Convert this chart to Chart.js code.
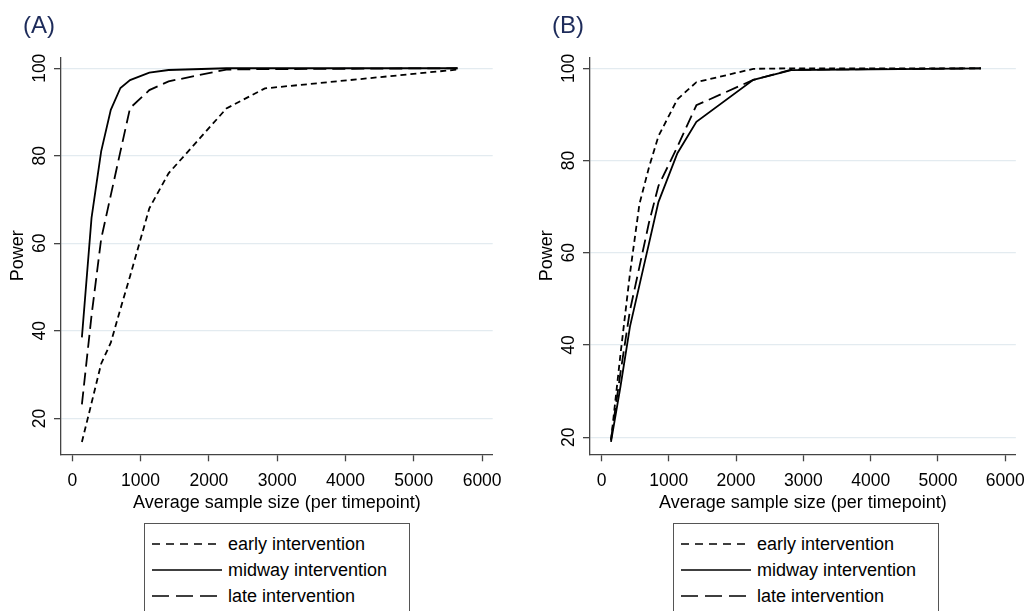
<!DOCTYPE html>
<html>
<head>
<meta charset="utf-8">
<script src="https://cdn.jsdelivr.net/npm/chart.js@4.4.0/dist/chart.umd.min.js"></script>
<style>
  body { margin: 0; background: #fff; font-family: "Liberation Sans", Arial, sans-serif; }
  .wrap { position: relative; width: 1034px; height: 611px; overflow: hidden; }
  .panel { position: absolute; top: 0; }
  .tag { position: absolute; top: 12px; font-size: 24px; line-height: 26px; color: #1d2b5a; }
  .legend { position: absolute; top: 523px; width: 266px; height: 100px; border: 1px solid #555;
            box-sizing: border-box; padding-top: 7px; }
  .legend .row { display: flex; align-items: center; height: 26px; font-size: 18px; color: #000; }
  .legend svg { margin: 0 6px 0 7px; }
</style>
</head>
<body>
<div class="wrap">
  <canvas id="chartA" class="panel" style="left:0" width="517" height="520"></canvas>
  <canvas id="chartB" class="panel" style="left:517px" width="517" height="520"></canvas>
  <div class="tag" style="left:23px">(A)</div>
  <div class="tag" style="left:552px">(B)</div>
  <div class="legend" id="legendA" style="left:144px"></div>
  <div class="legend" id="legendB" style="left:673px"></div>
</div>
<script>
// average sample size per timepoint (shared by every curve)
const sampleSize = [141, 282, 423, 564, 705, 846, 1128, 1410, 2256, 2820, 5640];

// panel A
const earlyA  = [14.6, 23.5, 32.5, 37.3, 45, 52.5, 68, 76, 90.8, 95.4, 99.7];
const midwayA = [38.5, 65.8, 81, 90.5, 95.5, 97.3, 99.0, 99.6, 100, 100, 100];
const lateA   = [23.2, 43.5, 61, 71, 81, 90.9, 95, 97, 99.7, 99.8, 100];

// panel B
const earlyB  = [19.3, 38, 55.5, 70.6, 78.5, 85.3, 93.3, 97, 99.9, 100, 100];
const midwayB = [19, 31, 44, 53, 62, 71, 81.6, 88.4, 97.5, 99.6, 100];
const lateB   = [19.5, 34, 47.5, 57, 66.5, 74.5, 83, 92, 97.5, 99.7, 100];

const xTicks = [0, 1000, 2000, 3000, 4000, 5000, 6000];
const yTicks = [20, 40, 60, 80, 100];
const seriesNames = ['early intervention', 'midway intervention', 'late intervention'];

const dashes = [[6, 4], [], [13, 6]];
const legendDashes = ['8 6', '', '17 7'];

const FONT = '"Liberation Sans", Arial, sans-serif';
Chart.defaults.font.family = FONT;
Chart.defaults.color = '#000';

function toPoints(ys) {
    return sampleSize.map((x, i) => ({ x: x, y: ys[i] }));
}

// y tick labels are written vertically, reading upwards
const verticalYLabels = {
    id: 'verticalYLabels',
    afterDraw(chart) {
        const s = chart.scales.y;
        const ctx = chart.ctx;
        ctx.save();
        ctx.font = '17.5px ' + FONT;
        ctx.fillStyle = '#000';
        ctx.textAlign = 'center';
        ctx.textBaseline = 'middle';
        s.ticks.forEach(t => {
            ctx.save();
            ctx.translate(s.right - 21, s.getPixelForValue(t.value));
            ctx.rotate(-Math.PI / 2);
            ctx.fillText(String(t.value), 0, 0);
            ctx.restore();
        });
        ctx.restore();
    }
};

function makeChart(canvas, series, xRange, yRange, padLeft, padRight) {
    return new Chart(canvas, {
        type: 'line',
        data: {
            datasets: series.map((ys, i) => ({
                label: seriesNames[i],
                data: toPoints(ys),
                borderColor: '#000',
                borderWidth: 1.8,
                borderDash: dashes[i],
                pointRadius: 0,
                tension: 0,
                fill: false
            }))
        },
        options: {
            responsive: false,
            animation: false,
            layout: {
                padding: { left: padLeft, right: padRight, top: 57.3, bottom: 6.2 }
            },
            scales: {
                x: {
                    type: 'linear',
                    min: xRange[0],
                    max: xRange[1],
                    afterBuildTicks: s => { s.ticks = xTicks.map(v => ({ value: v })); },
                    afterFit: s => { s.height = 59.5; },
                    grid: { drawOnChartArea: false, tickLength: 7, tickColor: '#444', tickWidth: 1.3 },
                    border: { color: '#444', width: 1.3 },
                    ticks: {
                        color: '#000',
                        font: { size: 17.5 },
                        padding: 9,
                        maxRotation: 0,
                        callback: v => String(v)
                    },
                    title: {
                        display: true,
                        text: 'Average sample size (per timepoint)',
                        color: '#000',
                        font: { size: 18 },
                        padding: 0
                    }
                },
                y: {
                    min: yRange[0],
                    max: yRange[1],
                    afterBuildTicks: s => { s.ticks = yTicks.map(v => ({ value: v })); },
                    afterFit: s => { s.width = 61; },
                    grid: { color: '#e3ebf0', lineWidth: 1.3, tickLength: 7, tickColor: '#444', tickWidth: 1.3 },
                    border: { color: '#444', width: 1.3 },
                    ticks: { display: false },
                    title: {
                        display: true,
                        text: 'Power',
                        color: '#000',
                        font: { size: 18 },
                        padding: { top: 7, bottom: 0 }
                    }
                }
            },
            plugins: {
                legend: { display: false },
                tooltip: { enabled: false }
            }
        },
        plugins: [verticalYLabels]
    });
}

// legend box under each panel
function buildLegend(el) {
    seriesNames.forEach((name, i) => {
        const row = document.createElement('div');
        row.className = 'row';
        row.innerHTML =
            '<svg width="70" height="4"><line x1="0" y1="2" x2="70" y2="2" stroke="#000" stroke-width="1.6"' +
            (legendDashes[i] ? ' stroke-dasharray="' + legendDashes[i] + '"' : '') + '/></svg>' +
            '<span>' + name + '</span>';
        el.appendChild(row);
    });
}

makeChart(document.getElementById('chartA'), [earlyA, midwayA, lateA], [-165, 6155], [11.8, 102.5], 0, 24.3);
makeChart(document.getElementById('chartB'), [earlyB, midwayB, lateB], [-171, 6158], [16.3, 102.4], 12, 12.3);

buildLegend(document.getElementById('legendA'));
buildLegend(document.getElementById('legendB'));
</script>
</body>
</html>
